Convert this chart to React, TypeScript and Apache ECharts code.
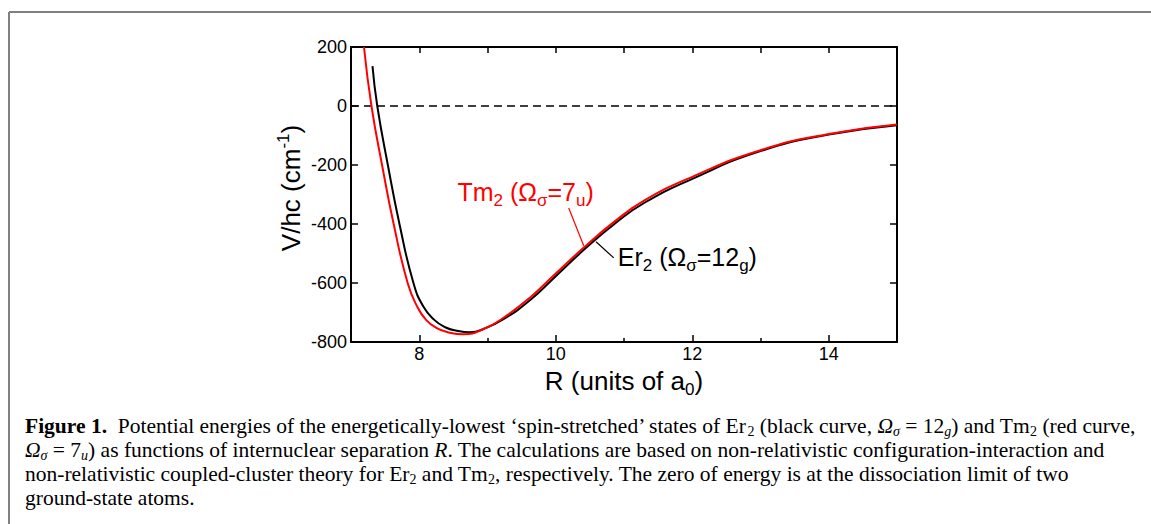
import React, { useEffect, useRef } from "react";
import * as echarts from "echarts";

// Tm2 (red curve)
const tmR = [7.19, 7.3, 7.455, 7.625, 7.83, 7.97, 8.1, 8.25, 8.42, 8.65, 8.95, 9.24, 9.63, 10.0, 10.42, 10.86, 11.3, 12.0, 13.0, 14.0, 15.0];
const tmV = [200, 0, -200, -400, -600, -680, -725, -752, -767, -774, -755, -717, -648, -568, -478, -392, -320, -240, -150, -95, -63];
// Er2 (black curve)
const erR = [7.315, 7.385, 7.54, 7.71, 7.915, 8.06, 8.22, 8.38, 8.55, 8.75, 8.95, 9.24, 9.63, 10.0, 10.42, 10.86, 11.3, 12.0, 13.0, 14.0, 15.0];
const erV = [135, 0, -200, -400, -600, -680, -725, -750, -762, -767, -755, -722, -657, -577, -486, -400, -328, -247, -153, -97, -65];

const xMajor = [8, 10, 12, 14];
const xMinor = [9, 11, 13];
const zeroLine = [[7, 0], [15, 0]];

const SANS = "'Liberation Sans', Arial, Helvetica, sans-serif";
const SERIF = "'Liberation Serif', 'DejaVu Serif', 'Times New Roman', serif";

const captionLines = [
  "{b|Figure 1.}{n|  Potential energies of the energetically-lowest \u2018spin-stretched\u2019 states of Er}{s|2}{n| (black curve, }{i|\u03A9}{is|\u03C3}{n| = 12}{is|g}{n|) and Tm}{s|2}{n| (red curve,}",
  "{i|\u03A9}{is|\u03C3}{n| = 7}{is|u}{n|) as functions of internuclear separation }{i|R}{n|. The calculations are based on non-relativistic configuration-interaction and}",
  "{n|non-relativistic coupled-cluster theory for Er}{s|2}{n| and Tm}{s|2}{n|, respectively. The zero of energy is at the dissociation limit of two}",
  "{n|ground-state atoms.}",
];

export default function App() {
  const ref = useRef<HTMLDivElement>(null);
  useEffect(() => {
    if (!ref.current) return;
    const chart = echarts.init(ref.current, null, { renderer: "svg" });
    const axisLabelStyle = { color: "#000", fontSize: 18, fontFamily: SANS };
    chart.setOption({
      animation: false,
      grid: { left: 351, right: 254, top: 47, bottom: 182, containLabel: false },
      xAxis: [
        {
          type: "value", min: 7, max: 15, interval: 1, position: "bottom",
          axisLine: { show: true, onZero: false, lineStyle: { color: "#000", width: 2 } },
          axisTick: { show: true, inside: true, length: 7, customValues: xMajor, lineStyle: { color: "#000", width: 1.5 } },
          axisLabel: { show: true, margin: 3, customValues: xMajor, ...axisLabelStyle },
          splitLine: { show: false },
          name: "{m|R (units of a}{sub|0}{m|)}",
          nameLocation: "middle",
          nameGap: 17,
          nameTextStyle: {
            color: "#000", fontFamily: SANS, fontSize: 26,
            rich: {
              m: { fontSize: 26, lineHeight: 34, fontFamily: SANS, color: "#000" },
              sub: { fontSize: 17, lineHeight: 14, verticalAlign: "bottom", fontFamily: SANS, color: "#000" },
            },
          },
        },
        {
          type: "value", min: 7, max: 15, interval: 1, position: "bottom",
          axisLine: { show: false, onZero: false },
          axisTick: { show: true, inside: true, length: 4, customValues: xMinor, lineStyle: { color: "#000", width: 1.5 } },
          axisLabel: { show: false },
          splitLine: { show: false },
        },
        {
          type: "value", min: 7, max: 15, interval: 1, position: "top",
          axisLine: { show: true, onZero: false, lineStyle: { color: "#000", width: 2 } },
          axisTick: { show: true, inside: true, length: 6, lineStyle: { color: "#000", width: 1.5 } },
          axisLabel: { show: false },
          splitLine: { show: false },
        },
      ],
      yAxis: [
        {
          type: "value", min: -800, max: 200, interval: 200, position: "left",
          axisLine: { show: true, onZero: false, lineStyle: { color: "#000", width: 2 } },
          axisTick: { show: true, inside: true, length: 7, lineStyle: { color: "#000", width: 1.5 } },
          axisLabel: { show: true, margin: 4, ...axisLabelStyle },
          splitLine: { show: false },
        },
        {
          type: "value", min: -800, max: 200, interval: 200, position: "right",
          axisLine: { show: true, onZero: false, lineStyle: { color: "#000", width: 2 } },
          axisTick: { show: true, inside: true, length: 7, lineStyle: { color: "#000", width: 1.5 } },
          axisLabel: { show: false },
          splitLine: { show: false },
        },
      ],
      series: [
        {
          type: "line", data: zeroLine, symbol: "none", silent: true,
          lineStyle: { color: "#000", width: 1.5, type: [8, 5] },
        },
        {
          name: "Er2", type: "line", smooth: 0.5, symbol: "none",
          data: erR.map((r, i) => [r, erV[i]]),
          lineStyle: { color: "#000", width: 2 },
        },
        {
          name: "Tm2", type: "line", smooth: 0.5, symbol: "none",
          data: tmR.map((r, i) => [r, tmV[i]]),
          lineStyle: { color: "#ff0000", width: 2 },
        },
      ],
    });

    const px = (r: number, v: number) => chart.convertToPixel({ gridIndex: 0 }, [r, v]) as number[];
    const tmA = px(10.19, -346), tmB = px(10.41, -474);
    const erA = px(10.59, -460), erB = px(10.85, -515);
    const tmT = px(8.56, -235), erT = px(10.91, -455);

    const annRich = (c: string) => ({
      m: { fontSize: 25, lineHeight: 34, fontFamily: SANS, fill: c },
      sub: { fontSize: 17, lineHeight: 14, verticalAlign: "bottom", fontFamily: SANS, fill: c },
    });

    const capRich = {
      n: { fontSize: 21.5, lineHeight: 24, fontFamily: SERIF, fill: "#000" },
      b: { fontSize: 21.5, lineHeight: 24, fontFamily: SERIF, fontWeight: "bold", fill: "#000" },
      i: { fontSize: 21.5, lineHeight: 24, fontFamily: SERIF, fontStyle: "italic", fill: "#000" },
      s: { fontSize: 14, lineHeight: 16, verticalAlign: "bottom", fontFamily: SERIF, fill: "#000" },
      is: { fontSize: 14, lineHeight: 16, verticalAlign: "bottom", fontFamily: SERIF, fontStyle: "italic", fill: "#000" },
    };

    const graphics: any[] = [
      { type: "line", shape: { x1: 9, y1: 12, x2: 1151, y2: 12 }, style: { stroke: "#808080", lineWidth: 2 } },
      { type: "line", shape: { x1: 9, y1: 12, x2: 9, y2: 524 }, style: { stroke: "#808080", lineWidth: 2 } },
      { type: "line", shape: { x1: tmA[0], y1: tmA[1], x2: tmB[0], y2: tmB[1] }, style: { stroke: "#ff0000", lineWidth: 1.2 } },
      { type: "line", shape: { x1: erA[0], y1: erA[1], x2: erB[0], y2: erB[1] }, style: { stroke: "#000", lineWidth: 1.2 } },
      {
        type: "text", x: tmT[0], y: tmT[1],
        style: { text: "{m|Tm}{sub|2}{m| (\u03A9}{sub|\u03C3}{m|=7}{sub|u}{m|)}", rich: annRich("#ff0000"), align: "left", verticalAlign: "top", fill: "#ff0000" },
      },
      {
        type: "text", x: erT[0], y: erT[1],
        style: { text: "{m|Er}{sub|2}{m| (\u03A9}{sub|\u03C3}{m|=12}{sub|g}{m|)}", rich: annRich("#000"), align: "left", verticalAlign: "top", fill: "#000" },
      },
      {
        type: "text", x: 291, y: 188, rotation: Math.PI / 2,
        style: {
          text: "{m|V/hc (cm}{sup|-1}{m|)}",
          align: "center", verticalAlign: "middle",
          rich: {
            m: { fontSize: 26, lineHeight: 32, fontFamily: SANS, fill: "#000" },
            sup: { fontSize: 17, lineHeight: 17, verticalAlign: "top", fontFamily: SANS, fill: "#000" },
          },
        },
      },
    ];
    const baseY = [414, 438, 462, 486];
    captionLines.forEach((t, i) => {
      graphics.push({
        type: "text", x: 25, y: baseY[i],
        style: { text: t, rich: capRich, align: "left", verticalAlign: "top" },
      });
    });
    chart.setOption({ graphic: graphics });
    return () => chart.dispose();
  }, []);
  return (
    <div
      ref={ref}
      style={{ position: "absolute", left: 0, top: 0, width: 1151, height: 524, background: "#fff" }}
    />
  );
}
